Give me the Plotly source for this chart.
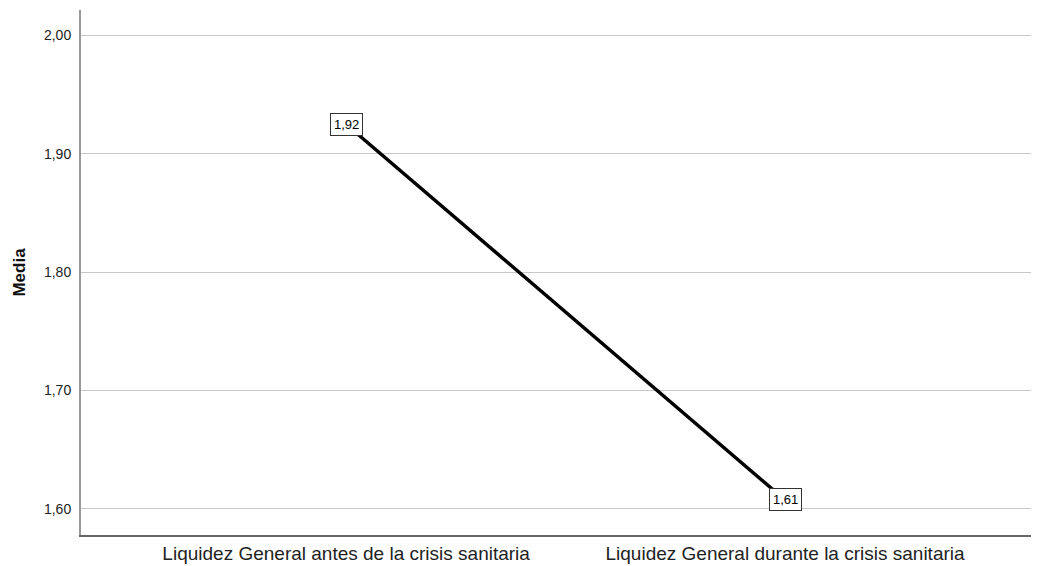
import plotly.graph_objects as go

categories = ["Liquidez General antes de la crisis sanitaria",
              "Liquidez General durante la crisis sanitaria"]
means = [1.925, 1.6076]
labels = ["1,92", "1,61"]
y_ticks = [1.60, 1.70, 1.80, 1.90, 2.00]
y_ticktext = ["1,60", "1,70", "1,80", "1,90", "2,00"]

FONT = "Liberation Sans, Arial, sans-serif"

fig = go.Figure()
fig.add_trace(go.Scatter(
    x=list(range(len(categories))), y=means, mode="lines",
    line=dict(color="black", width=3.5), hoverinfo="skip", showlegend=False))

for i, (v, t) in enumerate(zip(means, labels)):
    fig.add_annotation(x=i, y=v, text=t, showarrow=False,
                       font=dict(family=FONT, size=13, color="black"),
                       bgcolor="white", bordercolor="#333", borderwidth=1, borderpad=3)

# page body has an 8px margin; size/margins compensate for it
fig.update_layout(
    width=1031, height=558,
    margin=dict(l=73, r=2, t=2, b=31),
    plot_bgcolor="white", paper_bgcolor="white",
    font=dict(family=FONT, color="#222"),
    xaxis=dict(range=[-0.604, 1.574], tickvals=[0, 1], ticktext=categories,
               showgrid=False, zeroline=False, showline=True, linecolor="#666",
               linewidth=1.5, ticks="", tickfont=dict(size=19, color="#222")),
    yaxis=dict(range=[1.578, 2.0215], tickvals=y_ticks, ticktext=y_ticktext,
               showgrid=True, gridcolor="#c8c8c8", gridwidth=1, zeroline=False,
               showline=True, linecolor="#999", linewidth=2, ticks="",
               ticklabelstandoff=5,
               tickfont=dict(size=14, color="#222"),
               title=dict(text="<b>Media</b>", font=dict(size=17, color="#111"), standoff=14)),
)
fig.write_html("out.html")
